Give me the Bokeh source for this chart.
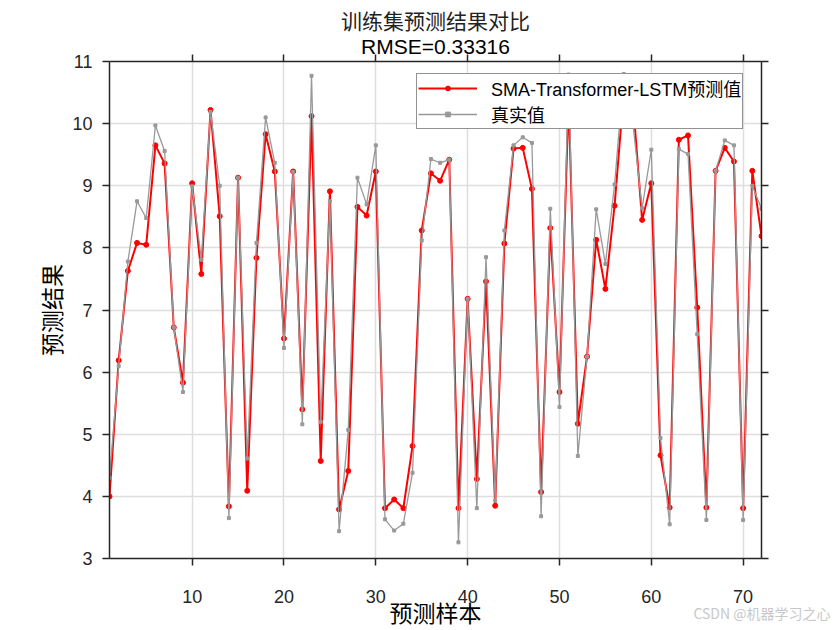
from bokeh.plotting import figure
from bokeh.models import (LinearAxis, Range1d, FixedTicker, Title, Legend,
                          LegendItem)
from bokeh.embed import file_html
from bokeh.resources import INLINE

# ---------------- data ----------------
sample_index = list(range(1, 73))
predicted = [4.00, 6.19, 7.63, 8.08, 8.05, 9.65, 9.36, 6.72, 5.83, 9.04,
             7.58, 10.22, 8.51, 3.84, 9.13, 4.09, 7.84, 9.83, 9.23, 6.54,
             9.23, 5.40, 10.12, 4.57, 8.91, 3.79, 4.41, 8.66, 8.52, 9.23,
             3.81, 3.95, 3.81, 4.81, 8.28, 9.20, 9.08, 9.42, 3.81, 7.18,
             4.28, 7.46, 3.85, 8.07, 9.60, 9.61, 8.95, 4.07, 8.32, 5.68,
             10.40, 5.17, 6.25, 8.13, 7.34, 8.68, 10.50, 10.35, 8.45, 9.04,
             4.66, 3.82, 9.74, 9.81, 7.04, 3.82, 9.24, 9.61, 9.39, 3.81,
             9.24, 8.19]
actual = [4.30, 6.10, 7.78, 8.75, 8.48, 9.97, 9.56, 6.72, 5.68, 8.99,
          7.81, 10.19, 9.00, 3.65, 9.13, 4.61, 8.08, 10.10, 9.37, 6.39,
          9.22, 5.16, 10.77, 5.20, 8.75, 3.44, 5.07, 9.13, 8.70, 9.65,
          3.63, 3.45, 3.56, 4.38, 8.12, 9.43, 9.37, 9.42, 3.26, 7.18,
          3.81, 7.85, 3.93, 8.28, 9.65, 9.78, 9.69, 3.68, 8.63, 5.44,
          10.79, 4.65, 6.25, 8.62, 7.74, 9.02, 10.80, 10.00, 8.64, 9.58,
          4.94, 3.55, 9.59, 9.51, 6.61, 3.62, 9.24, 9.73, 9.65, 3.62,
          9.00, 8.63]
x_ticks = [10, 20, 30, 40, 50, 60, 70]
y_ticks = [3, 4, 5, 6, 7, 8, 9, 10, 11]
title_main = "训练集预测结果对比"
title_sub = "RMSE=0.33316"
x_label = "预测样本"
y_label = "预测结果"
legend_labels = ["SMA-Transformer-LSTM预测值", "真实值"]
watermark = "CSDN @机器学习之心"

# ---------------- style ----------------
AX = "#262626"
LATIN = "Liberation Sans"
CJK = "Noto Sans CJK SC"
MIXED = "'Liberation Sans', 'Noto Sans CJK SC'"
RED = "#ff0000"
GRAY = "#999999"

p = figure(width=840, height=630, output_backend="svg", toolbar_location=None,
           x_range=Range1d(1, 72), y_range=Range1d(3, 11),
           min_border_left=109, min_border_right=79,
           min_border_top=61, min_border_bottom=72)
p.outline_line_color = None
p.background_fill_color = "white"
p.border_fill_color = "white"


def style_axis(ax, ticks, show_labels):
    ax.ticker = FixedTicker(ticks=ticks)
    ax.axis_line_color = AX
    ax.axis_line_width = 1.5
    ax.major_tick_line_color = AX
    ax.major_tick_line_width = 1.5
    ax.major_tick_in = 0
    ax.major_tick_out = 7
    ax.minor_tick_line_color = None
    ax.major_label_text_font = LATIN
    ax.major_label_text_font_size = "18px"
    ax.major_label_text_color = AX
    if not show_labels:
        ax.major_label_overrides = {t: "" for t in ticks}
        ax.major_label_standoff = 0


xa = p.xaxis[0]
ya = p.yaxis[0]
style_axis(xa, x_ticks, True)
style_axis(ya, y_ticks, True)
xa.major_label_standoff = 24
ya.major_label_standoff = 10

ya.axis_label = y_label
ya.axis_label_text_font = CJK
ya.axis_label_text_font_size = "23px"
ya.axis_label_text_font_style = "normal"
ya.axis_label_text_color = "#000000"
ya.axis_label_standoff = 1

top_ax = LinearAxis()
right_ax = LinearAxis()
style_axis(top_ax, x_ticks, False)
style_axis(right_ax, y_ticks, False)
p.add_layout(top_ax, "above")
p.add_layout(right_ax, "right")

p.xgrid.ticker = FixedTicker(ticks=x_ticks)
p.ygrid.ticker = FixedTicker(ticks=y_ticks)
for g in (p.xgrid[0], p.ygrid[0]):
    g.grid_line_color = "#dedede"
    g.grid_line_width = 1.5

# ---------------- data renderers ----------------
r_pred_line = p.line(sample_index, predicted, line_color=RED, line_width=2)
r_pred_pts = p.scatter(sample_index, predicted, marker="circle", size=5,
                       fill_color=RED, line_color=RED)
r_true_line = p.line(sample_index, actual, line_color=GRAY, line_width=1.3)
r_true_pts = p.scatter(sample_index, actual, marker="square", size=3,
                       fill_color=GRAY, line_color=GRAY)

legend = Legend(items=[
    LegendItem(label=legend_labels[0], renderers=[r_pred_line, r_pred_pts]),
    LegendItem(label=legend_labels[1], renderers=[r_true_line, r_true_pts]),
])
legend.location = (307, 429)
legend.margin = 0
legend.padding = 1
legend.spacing = -2
legend.glyph_width = 59
legend.glyph_height = 12
legend.label_height = 24
legend.label_standoff = 14
legend.label_text_font = MIXED
legend.label_text_font_size = "18px"
legend.label_text_color = "#000000"
legend.border_line_color = AX
legend.border_line_width = 1.5
legend.background_fill_color = "white"
legend.background_fill_alpha = 1.0
p.add_layout(legend)

# ---------------- titles ----------------
p.add_layout(Title(text=title_sub, align="center", text_font=LATIN,
                   text_font_size="21px", text_font_style="normal",
                   text_color="#000000", standoff=-7), "above")
p.add_layout(Title(text=title_main, align="center", text_font=CJK,
                   text_font_size="21px", text_font_style="normal",
                   text_color="#222222", standoff=4), "above")

# x-axis label (as a title below the axis, so it can sit near the bottom)
p.add_layout(Title(text=x_label, align="center", vertical_align="top",
                   text_font=CJK, text_font_size="23px",
                   text_font_style="normal", text_color="#000000",
                   standoff=-22), "below")

# watermark in the bottom right corner
p.add_layout(Title(text=watermark, align="right", vertical_align="top",
                   text_font=CJK, text_font_size="14px",
                   text_font_style="normal", text_color="#c8c8c8",
                   standoff=-33, offset=-69), "below")

open("out.html", "w").write(file_html(p, INLINE))
